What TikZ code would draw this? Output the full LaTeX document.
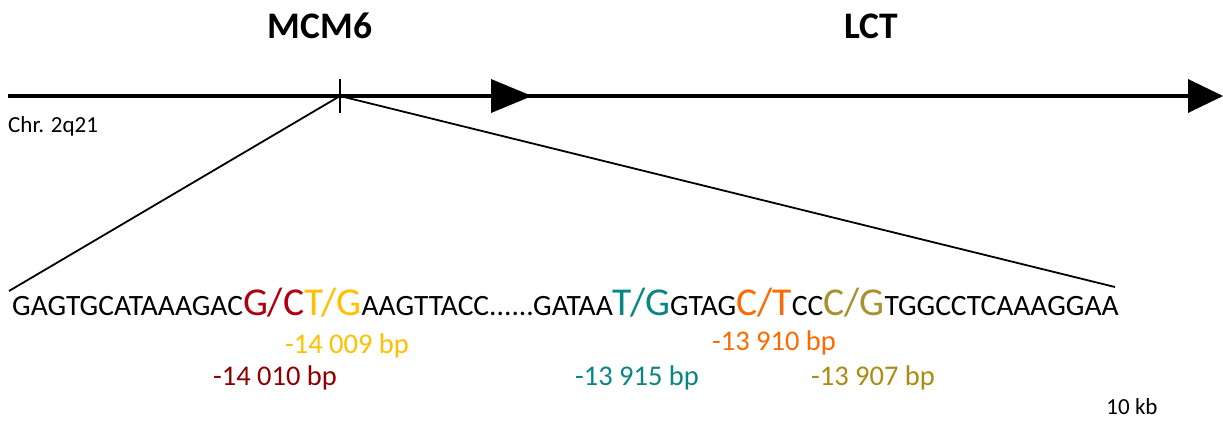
\documentclass[tikz,border=0pt]{standalone}
\usepackage{fontspec}
\setmainfont{Carlito}
\definecolor{cRed}{HTML}{B00010}
\definecolor{cRedL}{HTML}{8E0000}
\definecolor{cGold}{HTML}{FFC000}
\definecolor{cTeal}{HTML}{0A8585}
\definecolor{cOrange}{HTML}{FF6A00}
\definecolor{cOlive}{HTML}{A8912F}
\definecolor{cOliveL}{HTML}{AA8C14}
\newcommand{\fs}[1]{\fontsize{#1}{#1}\selectfont}
\begin{document}
\begin{tikzpicture}[x=1pt,y=-1pt,
  lbl/.style={inner sep=0pt,anchor=base,font=\fs{28.5}},
  title/.style={inner sep=0pt,anchor=base,font=\fs{37.5}\bfseries},
  chrline/.style={line width=3.8pt},
  zoomline/.style={line width=1.8pt},
  tip/.style={fill=black}]
\useasboundingbox (0,0) rectangle (1223,429);
% chromosome line
\coordinate (L) at (8,96);
\coordinate (R) at (1220,96);
\coordinate (snp) at (340,96);
\draw[chrline] (L) -- (R);
\fill[tip] (491,79) -- (532,96) -- (491,113) -- cycle;
\fill[tip] (1188,79) -- (1223,96) -- (1188,113) -- cycle;
\draw[line width=1.2pt] (340,79) -- (340,113);
% zoom lines
\coordinate (zl) at (9,291);
\coordinate (zr) at (1115,287);
\draw[zoomline] (snp) -- (zl);
\draw[zoomline] (snp) -- (zr);
% titles
\node[title] (mcm) at (320,38) {MCM6};
\node[title] (lct) at (871,38) {LCT};
\node[inner sep=0pt,anchor=base west,font=\fs{23}] (chr) at (8,132) {Chr. 2q21};
% sequence
\node[inner sep=0pt,anchor=base west,font=\fs{29.5}] (seq) at (12,315)
 {GAGTGCATAAAGAC{\fs{39.5}\color{cRed}G/C}{\fs{39.5}\color{cGold}T/G}AAGTTACC......GATAA{\fs{39.5}\color{cTeal}T/G}GTAG{\fs{39.5}\color{cOrange}C/T}CC{\fs{39.5}\color{cOlive}C/G}TGGCCTCAAAGGAA};
% position labels
\node[lbl,text=cGold] (p1) at (347,353) {-14 009 bp};
\node[lbl,text=cOrange] (p2) at (774,350) {-13 910 bp};
\node[lbl,text=cRedL] (p3) at (275,385) {-14 010 bp};
\node[lbl,text=cTeal] (p4) at (637,385) {-13 915 bp};
\node[lbl,text=cOliveL] (p5) at (873,385) {-13 907 bp};
\node[inner sep=0pt,anchor=base,font=\fs{23}] (kb) at (1132,414) {10 kb};
\end{tikzpicture}
\end{document}
